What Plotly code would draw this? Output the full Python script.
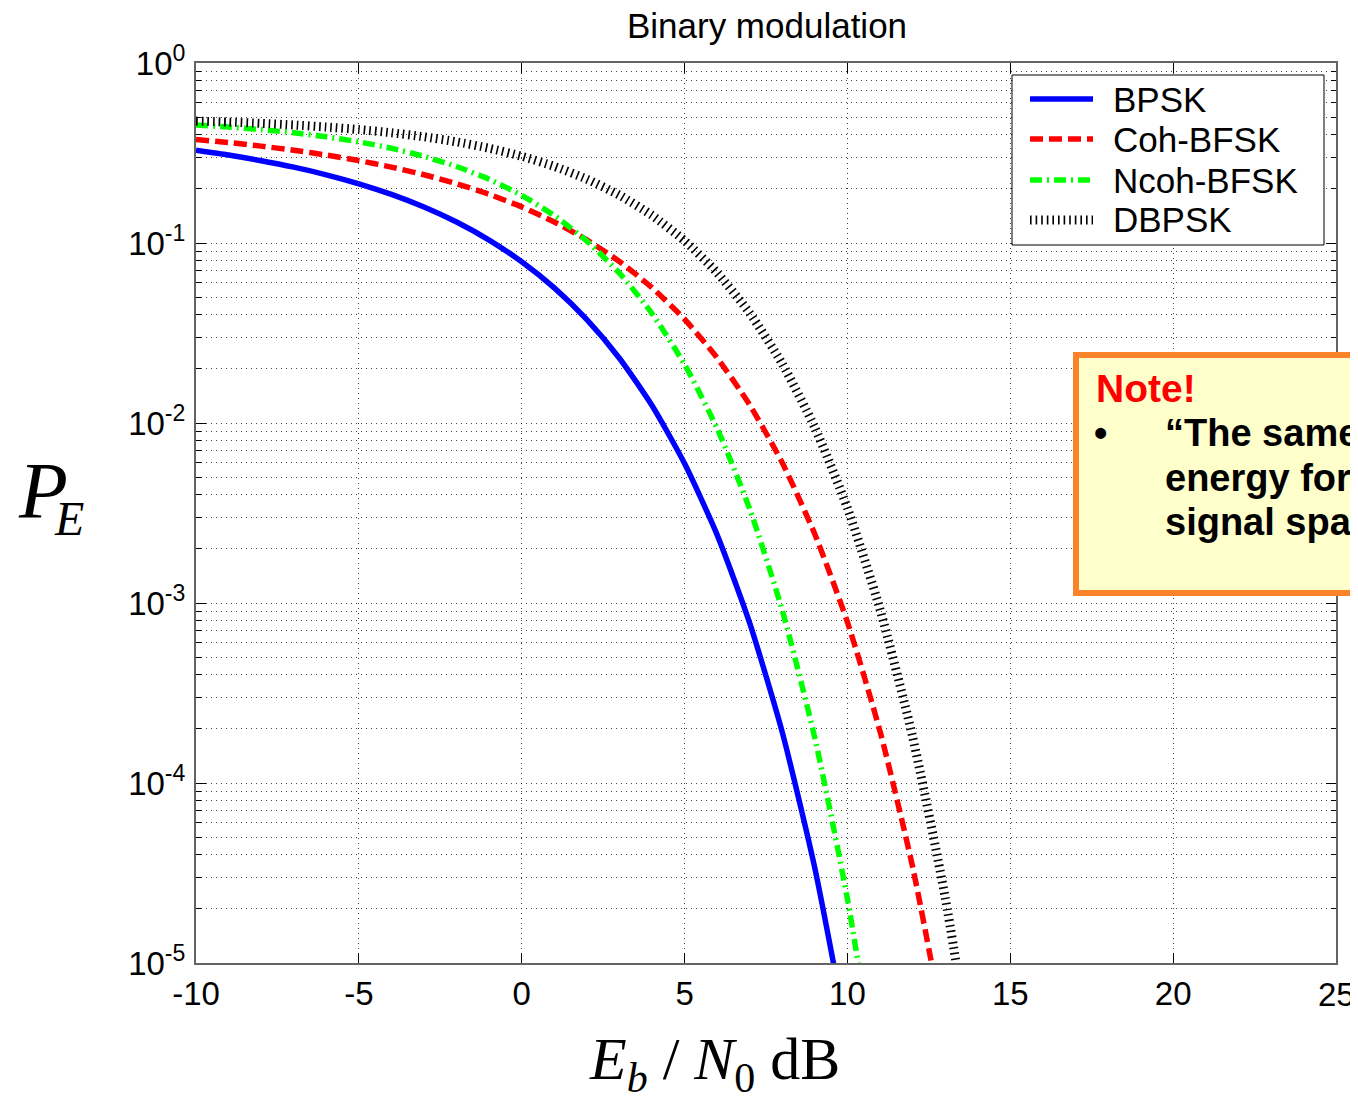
import plotly.graph_objects as go

# ---- data ----
ebn0_db = [-10, -9, -8, -7, -6, -5, -4, -3, -2, -1, 0, 1, 2, 3, 4, 5, 6, 7, 8, 9, 10, 11, 12, 13, 14]

bpsk = [0.3274, 0.3079, 0.2866, 0.2638, 0.2393, 0.2132, 0.1861, 0.1584, 0.1307, 0.1038,
        0.0786, 0.0563, 0.0375, 0.0229, 0.0125, 0.00595, 0.00239, 7.73e-4, 1.91e-4, 3.36e-5,
        3.87e-6]
coh_bfsk = [0.3759, 0.3614, 0.3453, 0.3276, 0.3081, 0.2870, 0.2640, 0.2395, 0.2135, 0.1864,
            0.1587, 0.1309, 0.1040, 0.0789, 0.0565, 0.0377, 0.0230, 0.0126, 0.00601, 0.00241,
            7.83e-4, 1.94e-4, 3.43e-5, 3.97e-6]
ncoh_bfsk = [0.4524, 0.4408, 0.4267, 0.4096, 0.3889, 0.3644, 0.3358, 0.3029, 0.2660, 0.2259,
             0.1839, 0.1420, 0.1025, 0.0680, 0.04056, 0.02116, 0.00933, 0.003327, 9.09e-4, 1.775e-4,
             2.27e-5, 1.7e-6]
dbpsk = [0.4756, 0.4695, 0.4619, 0.4525, 0.4410, 0.4269, 0.4097, 0.3892, 0.3647, 0.3361,
         0.3033, 0.2664, 0.2264, 0.1844, 0.1424, 0.1029, 0.0683, 0.0408, 0.02132, 0.00942,
         0.003369, 9.23e-4, 1.81e-4, 2.32e-5, 1.75e-6]

series_names = ["BPSK", "Coh-BFSK", "Ncoh-BFSK", "DBPSK"]
x_tick_vals = [-10, -5, 0, 5, 10, 15, 20, 25]
y_tick_vals = [1e-5, 1e-4, 1e-3, 1e-2, 1e-1, 1]
y_tick_text = ["10<sup>-5</sup>", "10<sup>-4</sup>", "10<sup>-3</sup>", "10<sup>-2</sup>",
               "10<sup>-1</sup>", "10<sup>0</sup>"]

# ---- geometry (reference pixel coords; page body has an 8px margin on every side) ----
PAGE_W, PAGE_H, OFF = 1358, 1102, 8
W, H = PAGE_W - 2 * OFF, PAGE_H - 2 * OFF
L, R, T, B = 196, 1336, 63, 963

def px_x(p):
    return (p - L) / (R - L)

def px_y(p):
    return (B - p) / (B - T)

fig = go.Figure()

styles = [
    dict(color="rgb(0,0,255)", width=5.5, dash="solid"),
    dict(color="rgb(255,0,0)", width=5.5, dash="13px,6px"),
    dict(color="rgb(0,255,0)", width=5.5, dash="12px,5px,2px,5px"),
    dict(color="rgb(0,0,0)", width=9, dash="1.6px,4px"),
]
for name, vals, st in zip(series_names, [bpsk, coh_bfsk, ncoh_bfsk, dbpsk], styles):
    fig.add_trace(go.Scatter(
        x=ebn0_db[:len(vals)], y=vals, mode="lines", name=name, showlegend=False,
        line=dict(color=st["color"], width=st["width"], dash=st["dash"], shape="spline", smoothing=0.6),
    ))

grid_col = "rgba(0,0,0,0.75)"
axis_col = "rgb(100,100,100)"
sans = "Liberation Sans, Arial, sans-serif"
serif = "Liberation Serif, Times New Roman, serif"
tick_font = dict(family=sans, size=33, color="black")

minor_vals = [m * 10.0 ** e for e in range(-5, 0) for m in range(2, 10)]

# the last x label sits at the page edge: it is drawn as an annotation so plotly doesn't hide it
x_tick_text = [str(v) for v in x_tick_vals[:-1]] + [""]

fig.update_xaxes(
    range=[-10, 25], tickmode="array", tickvals=x_tick_vals, ticktext=x_tick_text,
    showline=True, linecolor=axis_col, linewidth=2, mirror="allticks",
    ticks="inside", ticklen=10, tickcolor="black", tickwidth=1,
    showgrid=True, gridcolor=grid_col, gridwidth=1, griddash="1px,4px",
    zeroline=False, tickfont=tick_font, ticklabelstandoff=0,
)
fig.add_annotation(text=str(x_tick_vals[-1]), xref="x", x=x_tick_vals[-1], yref="paper", y=px_y(994),
                   xanchor="center", yanchor="middle", showarrow=False, font=tick_font)
fig.update_yaxes(
    type="log", range=[-5, 0], tickmode="array", tickvals=y_tick_vals, ticktext=y_tick_text,
    showline=True, linecolor=axis_col, linewidth=2, mirror="allticks",
    ticks="inside", ticklen=10, tickcolor="black", tickwidth=1,
    showgrid=True, gridcolor=grid_col, gridwidth=1, griddash="1px,4px",
    minor=dict(tickmode="array", tickvals=minor_vals, ticks="inside", ticklen=5,
               tickcolor="black", showgrid=True, gridcolor=grid_col, gridwidth=1, griddash="1px,4px"),
    zeroline=False, tickfont=tick_font, ticklabelstandoff=2,
)

fig.update_layout(
    width=W, height=H,
    margin=dict(l=L - OFF, r=OFF + W - R, t=T - OFF, b=OFF + H - B),
    paper_bgcolor="white", plot_bgcolor="white",
    title=dict(text="Binary modulation", x=px_x(767), xref="paper", xanchor="center",
               y=1 - (26 - OFF) / H, yanchor="middle",
               font=dict(family=sans, size=35, color="black")),
    showlegend=False,
)

# legend (box, samples, labels)
fig.add_shape(type="rect", xref="paper", yref="paper",
              x0=px_x(1012), x1=px_x(1324), y0=px_y(245), y1=px_y(75),
              line=dict(color="black", width=1), fillcolor="white", layer="above")
for name, st, yc in zip(series_names, styles, [99, 139, 180, 220]):
    fig.add_shape(type="line", xref="paper", yref="paper",
                  x0=px_x(1030), x1=px_x(1093), y0=px_y(yc), y1=px_y(yc),
                  line=dict(color=st["color"], width=st["width"], dash=st["dash"]), layer="above")
    fig.add_annotation(text=name, xref="paper", yref="paper", x=px_x(1111), y=px_y(yc),
                       xanchor="left", yanchor="middle", showarrow=False,
                       font=dict(family=sans, size=35, color="black"))

# axis titles
fig.add_annotation(text="<i>P</i>", xref="paper", yref="paper",
                   x=px_x(43), y=px_y(491), xanchor="center", yanchor="middle", showarrow=False,
                   font=dict(family=serif, size=80, color="black"))
fig.add_annotation(text="<i>E</i>", xref="paper", yref="paper",
                   x=px_x(69), y=px_y(519), xanchor="center", yanchor="middle", showarrow=False,
                   font=dict(family=serif, size=48, color="black"))
fig.add_annotation(text="<i>E</i><sub><i>b</i></sub> / <i>N</i><sub>0</sub> dB", xref="paper", yref="paper",
                   x=px_x(714), y=px_y(1063), xanchor="center", yanchor="middle", showarrow=False,
                   font=dict(family=serif, size=60, color="black"))

# note box
fig.add_shape(type="rect", xref="paper", yref="paper",
              x0=px_x(1076), x1=px_x(1700), y0=px_y(593), y1=px_y(355),
              line=dict(color="rgb(250,130,40)", width=6), fillcolor="rgb(255,255,204)", layer="above")
note_font = dict(family=sans, size=38, color="black")
fig.add_annotation(text="<b>Note!</b>", xref="paper", yref="paper", x=px_x(1094), y=px_y(388),
                   xanchor="left", yanchor="middle", showarrow=False,
                   font=dict(family=sans, size=39, color="rgb(255,0,0)"))
fig.add_annotation(text="<b>•</b>", xref="paper", yref="paper", x=px_x(1092), y=px_y(433),
                   xanchor="left", yanchor="middle", showarrow=False, font=note_font)
for line_text, yc in zip(["“The same average", "energy for each", "signal space”"], [433, 478, 522]):
    fig.add_annotation(text="<b>" + line_text + "</b>", xref="paper", yref="paper", x=px_x(1163), y=px_y(yc),
                       xanchor="left", yanchor="middle", showarrow=False, font=note_font)

fig.write_html("out.html")
